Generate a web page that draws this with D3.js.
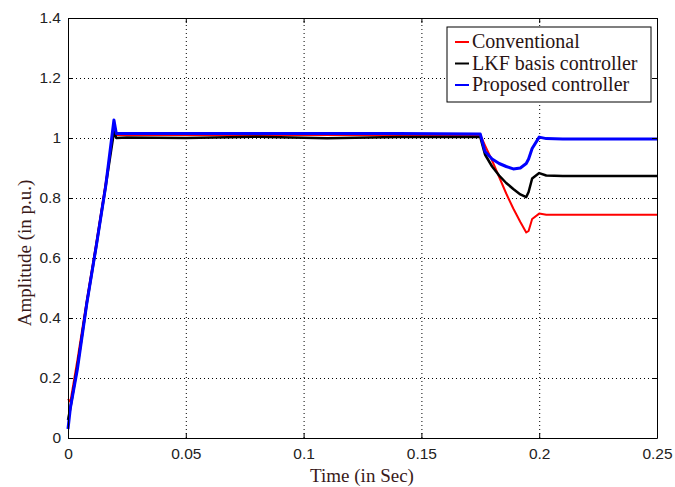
<!DOCTYPE html>
<html lang="en">
<head>
<meta charset="UTF-8">
<title>Amplitude response</title>
<style>
  * {padding:0; margin:0;}
  body {background:#fff;}
  .tick text {font-family:"Liberation Sans", Arial, sans-serif; font-size:15.5px; fill:#222;}
  .grid line {stroke:#000; stroke-width:1px; stroke-dasharray:1,3;}
  .grid path {display:none;}
  .title {font-family:"Liberation Serif", "Times New Roman", serif; font-size:19px; fill:#3a1a1a;}
  .legendText {font-family:"Liberation Serif", "Times New Roman", serif; font-size:20px; fill:#2a1414;}
</style>
</head>
<body>
<svg id="chart" width="675" height="487"></svg>
<script src="https://cdn.jsdelivr.net/npm/d3@7"></script>
<script>
// time axis shared by all three curves (seconds)
var timeSec = [0, 0.001, 0.004, 0.008, 0.012, 0.016, 0.0195, 0.0205, 0.025, 0.05, 0.08, 0.11, 0.14, 0.175,
               0.177, 0.18, 0.183, 0.186, 0.189, 0.192, 0.1945, 0.1955, 0.197, 0.2, 0.203, 0.21, 0.25];
var conventional = [0.13, 0.12, 0.26, 0.46, 0.65, 0.85, 1.03, 1.01, 1.01, 1.01, 1.01, 1.01, 1.01, 1.01,
                    0.975, 0.925, 0.87, 0.815, 0.765, 0.72, 0.685, 0.69, 0.73, 0.748, 0.744, 0.744, 0.744];
var lkfBasis = [0.06, 0.1, 0.24, 0.45, 0.64, 0.84, 1.02, 1.0, 1.002, 1.0, 1.004, 0.999, 1.003, 1.003,
                0.945, 0.905, 0.875, 0.85, 0.83, 0.812, 0.803, 0.82, 0.865, 0.883, 0.875, 0.873, 0.873];
var proposed = [0.03, 0.1, 0.23, 0.45, 0.64, 0.84, 1.06, 1.015, 1.015, 1.015, 1.015, 1.015, 1.015, 1.013,
                0.955, 0.93, 0.915, 0.905, 0.897, 0.9, 0.915, 0.93, 0.965, 1.003, 0.998, 0.997, 0.997];
var seriesNames = ["Conventional", "LKF basis controller", "Proposed controller"];
var seriesColors = ["#ff0000", "#000000", "#0000ff"];
var xTicks = [0, 0.05, 0.1, 0.15, 0.2, 0.25];
var yTicks = [0, 0.2, 0.4, 0.6, 0.8, 1, 1.2, 1.4];

var pL = 68, pR = 657, pT = 18, pB = 438;
var svg = d3.select("#chart");

var x = d3.scaleLinear().domain([0, 0.25]).range([pL, pR]);
var y = d3.scaleLinear().domain([0, 1.4]).range([pB, pT]);
var fmt = function(d){ return String(+d.toFixed(2)); };

// grid
svg.append("g").attr("class", "grid")
  .attr("transform", "translate(0," + pB + ")")
  .call(d3.axisBottom(x).tickValues(xTicks.slice(1, -1)).tickSize(-(pB - pT)).tickFormat(""));
svg.append("g").attr("class", "grid")
  .attr("transform", "translate(" + pL + ",0)")
  .call(d3.axisLeft(y).tickValues(yTicks.slice(1, -1)).tickSize(-(pR - pL)).tickFormat(""));

// curves
var line = d3.line()
  .x(function(d){ return x(d[0]); })
  .y(function(d){ return y(d[1]); });
var allSeries = [conventional, lkfBasis, proposed];
var widths = [2, 2.5, 3];
allSeries.forEach(function(vals, i){
  svg.append("path")
    .datum(timeSec.map(function(t, j){ return [t, vals[j]]; }))
    .attr("fill", "none")
    .attr("stroke", seriesColors[i])
    .attr("stroke-width", widths[i])
    .attr("stroke-linejoin", "round")
    .attr("d", line);
});

// axes with inward ticks (MATLAB style)
svg.append("g").attr("transform", "translate(0," + pB + ")")
  .call(d3.axisBottom(x).tickValues(xTicks).tickFormat(fmt).tickSizeInner(-5).tickSizeOuter(0).tickPadding(10));
svg.append("g").attr("transform", "translate(" + pL + ",0)")
  .call(d3.axisLeft(y).tickValues(yTicks).tickFormat(fmt).tickSizeInner(-5).tickSizeOuter(0).tickPadding(7));
svg.append("g").attr("transform", "translate(0," + pT + ")")
  .call(d3.axisTop(x).tickValues(xTicks).tickFormat("").tickSizeInner(-5).tickSizeOuter(0));
svg.append("g").attr("transform", "translate(" + pR + ",0)")
  .call(d3.axisRight(y).tickValues(yTicks).tickFormat("").tickSizeInner(-5).tickSizeOuter(0));
svg.selectAll(".domain, .tick line").attr("stroke", "#000");

// axis titles
svg.append("text").attr("class", "title")
  .attr("x", 362).attr("y", 482)
  .attr("text-anchor", "middle").text("Time (in Sec)");
svg.append("text").attr("class", "title")
  .attr("transform", "translate(31,253) rotate(-90)")
  .attr("text-anchor", "middle").text("Amplitude (in p.u.)");

// legend
var lg = svg.append("g").attr("transform", "translate(447,27)");
lg.append("rect").attr("width", 204).attr("height", 75)
  .attr("fill", "#fff").attr("stroke", "#000").attr("stroke-width", 1);
seriesNames.forEach(function(name, i){
  var yy = 15 + i * 21.5;
  lg.append("line").attr("x1", 8).attr("x2", 22).attr("y1", yy).attr("y2", yy)
    .attr("stroke", seriesColors[i]).attr("stroke-width", 2);
  lg.append("text").attr("class", "legendText")
    .attr("x", 25).attr("y", yy + 6).text(name);
});
</script>
</body>
</html>
